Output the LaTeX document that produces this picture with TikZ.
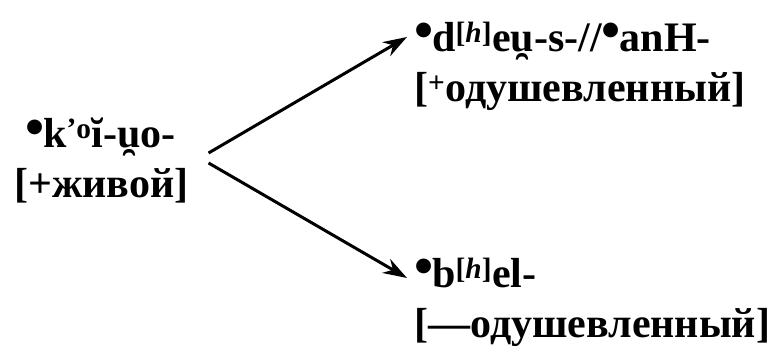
\documentclass[tikz,border=0pt]{standalone}
\usepackage{fontspec}
\usepackage{graphicx}
\setmainfont{Liberation Serif}
\usetikzlibrary{arrows.meta}
% reconstructed form marker and non-syllabic u
\newcommand\recon{\raisebox{0.06em}{\scalebox{1.3}{•}}\kern-1pt}
\newcommand\nonsyl[1]{\ooalign{#1\cr\hidewidth\raisebox{0.5em}{\scalebox{1}[-1]{˘}}\hidewidth\cr}}
\tikzset{
  form/.style={align=left, inner sep=0pt, font=\bfseries\fontsize{42}{50}\selectfont},
  arr/.style={-{Stealth[length=24pt,width=16pt]}, line width=3pt, draw=black}
}
\begin{document}
\begin{tikzpicture}[x=1pt,y=1pt]
\useasboundingbox (0,0) rectangle (769,356);

\node[form, anchor=west] (src) at (14,195)
  {\hspace{11pt}\recon k\textsuperscript{’o}ĭ-\nonsyl{u}o-\\{}[+живой]};

\node[form, anchor=west] (tgtA) at (414,290)
  {\recon d\textsuperscript{[\textit{h}]}e\nonsyl{u}-s-//\recon anH-\\{}[\textsuperscript{+}одушевленный]};

\node[form, anchor=west] (tgtB) at (414,54)
  {\recon b\textsuperscript{[\textit{h}]}el-\\{}[—одушевленный]};

\draw[arr] ([xshift=20pt,yshift=8pt]src.east) -- ([xshift=-7pt,yshift=29pt]tgtA.west);
\draw[arr] ([xshift=20pt,yshift=-2pt]src.east) -- ([xshift=-7pt,yshift=24pt]tgtB.west);

\end{tikzpicture}
\end{document}
